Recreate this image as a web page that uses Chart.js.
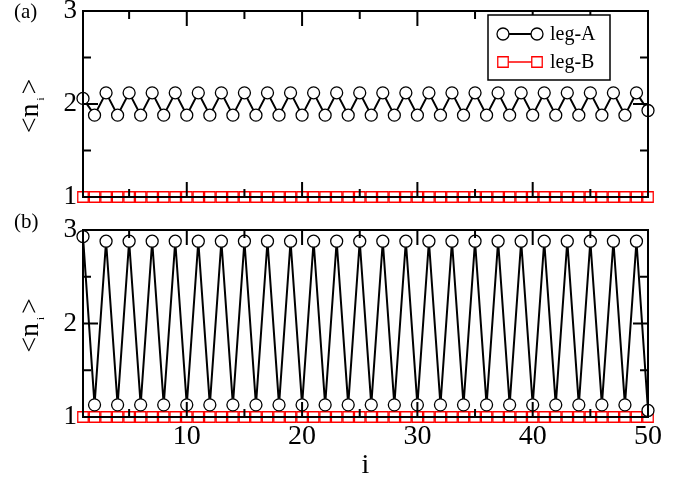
<!DOCTYPE html>
<html><head><meta charset="utf-8">
<script src="https://cdn.jsdelivr.net/npm/chart.js@4.4.0/dist/chart.umd.min.js"></script>
<style>
html,body{margin:0;padding:0;background:#fff;width:689px;height:482px;overflow:hidden;}
canvas{position:absolute;left:0;}
#cA{top:0;}
#cB{top:200px;}
</style></head><body>
<canvas id="cA" width="689" height="215"></canvas>
<canvas id="cB" width="689" height="282"></canvas>
<script>
// ---- data ----
const sites = [1,2,3,4,5,6,7,8,9,10,11,12,13,14,15,16,17,18,19,20,21,22,23,24,25,26,27,28,29,30,31,32,33,34,35,36,37,38,39,40,41,42,43,44,45,46,47,48,49,50];
const legA_a = [2.06,1.88,2.12,1.88,2.12,1.88,2.12,1.88,2.12,1.88,
                2.12,1.88,2.12,1.88,2.12,1.88,2.12,1.88,2.12,1.88,
                2.12,1.88,2.12,1.88,2.12,1.88,2.12,1.88,2.12,1.88,
                2.12,1.88,2.12,1.88,2.12,1.88,2.12,1.88,2.12,1.88,
                2.12,1.88,2.12,1.88,2.12,1.88,2.12,1.88,2.12,1.93];
const legB_a = [1,1,1,1,1,1,1,1,1,1,1,1,1,1,1,1,1,1,1,1,1,1,1,1,1,1,1,1,1,1,1,1,1,1,1,1,1,1,1,1,1,1,1,1,1,1,1,1,1,1];
const legA_b = [2.93,1.13,2.88,1.13,2.88,1.13,2.88,1.13,2.88,1.13,
                2.88,1.13,2.88,1.13,2.88,1.13,2.88,1.13,2.88,1.13,
                2.88,1.13,2.88,1.13,2.88,1.13,2.88,1.13,2.88,1.13,
                2.88,1.13,2.88,1.13,2.88,1.13,2.88,1.13,2.88,1.13,
                2.88,1.13,2.88,1.13,2.88,1.13,2.88,1.13,2.88,1.07];
const legB_b = [1,1,1,1,1,1,1,1,1,1,1,1,1,1,1,1,1,1,1,1,1,1,1,1,1,1,1,1,1,1,1,1,1,1,1,1,1,1,1,1,1,1,1,1,1,1,1,1,1,1];
const seriesNames = ['leg-A','leg-B'];
const panelLabels = ['(a)','(b)'];
const xTickLabels = [10,20,30,40,50];
const xMinorTicks = [5,15,25,35,45];
const yTickLabels = [1,2,3];
const yMinorTicks = [1.5,2.5];
const xTitle = 'i';

const SERIF = '"Liberation Serif", "Times New Roman", serif';
Chart.defaults.font.family = SERIF;
Chart.defaults.color = '#000';

function pts(vals){ return sites.map((s,k)=>({x:s,y:vals[k]})); }

function datasets(a,b){
  return [
    {label:seriesNames[0], data:pts(a), borderColor:'#000', borderWidth:2,
     pointStyle:'circle', pointRadius:6, pointBorderColor:'#000', pointBorderWidth:1.3,
     pointBackgroundColor:'#fff', clip:false, tension:0},
    {label:seriesNames[1], data:pts(b), borderColor:'#ff0000', borderWidth:1.5,
     pointStyle:'rect', pointRadius:7.4, pointBorderColor:'#ff0000', pointBorderWidth:1.3,
     pointBackgroundColor:'rgba(0,0,0,0)', clip:false, tension:0}
  ];
}

const framePlugin = {
  id:'frame',
  afterDatasetsDraw(chart){
    const {ctx, chartArea:a, scales:{x,y}} = chart;
    ctx.save();
    ctx.strokeStyle='#000'; ctx.lineWidth=2;
    ctx.strokeRect(a.left,a.top,a.right-a.left,a.bottom-a.top);
    ctx.beginPath();
    const xs = xTickLabels.map(v=>[v,15]).concat(xMinorTicks.map(v=>[v,8]));
    for (const [v,L] of xs){
      const px = x.getPixelForValue(v);
      ctx.moveTo(px,a.bottom); ctx.lineTo(px,a.bottom-L);
      ctx.moveTo(px,a.top); ctx.lineTo(px,a.top+L);
    }
    const ys = yTickLabels.map(v=>[v,15]).concat(yMinorTicks.map(v=>[v,8]));
    for (const [v,L] of ys){
      const py = y.getPixelForValue(v);
      ctx.moveTo(a.left,py); ctx.lineTo(a.left+L,py);
      ctx.moveTo(a.right,py); ctx.lineTo(a.right-L,py);
    }
    ctx.stroke();
    ctx.restore();
  },
  afterDraw(chart, args, opts){
    const {ctx, chartArea:a} = chart;
    ctx.save();
    ctx.fillStyle='#000';
    ctx.font='21px '+SERIF;
    ctx.textAlign='left'; ctx.textBaseline='middle';
    ctx.fillText(opts.panel, 14, opts.panelY);
    const cx = 38, cy = (a.top+a.bottom)/2 + 2;
    ctx.translate(cx, cy);
    ctx.rotate(-Math.PI/2);
    ctx.textBaseline='alphabetic';
    const big='28px '+SERIF, small='11px '+SERIF;
    const gap = 3;
    ctx.font=big; const w1=ctx.measureText('<n').width, w3=ctx.measureText('>').width;
    ctx.font=small; const w2=ctx.measureText('i').width + 2*gap;
    const x0 = -(w1+w2+w3)/2;
    ctx.font=big; ctx.fillText('<n', x0, 0);
    ctx.font=small; ctx.fillText('i', x0+w1+gap, 5.5);
    ctx.font=big; ctx.fillText('>', x0+w1+w2, 0);
    ctx.restore();

    if (opts.legend){
      ctx.save();
      ctx.fillStyle='#fff';
      ctx.fillRect(488,15,122,65);
      ctx.strokeStyle='#000'; ctx.lineWidth=1.5;
      ctx.strokeRect(488,15,122,65);
      const rows=[34,62];
      chart.data.datasets.forEach((ds,i)=>{
        const yy=rows[i];
        ctx.strokeStyle=ds.borderColor; ctx.lineWidth=ds.borderWidth;
        ctx.beginPath(); ctx.moveTo(503,yy); ctx.lineTo(537,yy); ctx.stroke();
        for (const xx of [503,537]){
          ctx.fillStyle='#fff'; ctx.strokeStyle=ds.pointBorderColor; ctx.lineWidth=ds.pointBorderWidth;
          ctx.beginPath();
          if (ds.pointStyle==='circle'){ ctx.arc(xx,yy,ds.pointRadius,0,Math.PI*2); }
          else { const s=ds.pointRadius*Math.SQRT1_2; ctx.rect(xx-s,yy-s,2*s,2*s); }
          ctx.fill(); ctx.stroke();
        }
        ctx.fillStyle='#000'; ctx.font='20px '+SERIF;
        ctx.textAlign='left'; ctx.textBaseline='middle';
        ctx.fillText(ds.label, 550, yy+1);
      });
      ctx.restore();
    }
  }
};

function zeroPad(s){ s.paddingTop=0; s.paddingBottom=0; s.paddingLeft=0; s.paddingRight=0; }

function makeChart(id, a, b, cfg){
  return new Chart(document.getElementById(id), {
    type:'line',
    data:{datasets:datasets(a,b)},
    options:{
      responsive:false, animation:false,
      layout:{padding:{top:cfg.top,right:41,left:0,bottom:0}},
      plugins:{legend:{display:false}, tooltip:{enabled:false},
        frame:{panel:cfg.panel, panelY:cfg.panelY, legend:cfg.legend}},
      scales:{
        x:{type:'linear', min:1, max:50,
           afterFit:s=>{s.height=cfg.xh; zeroPad(s);},
           grid:{display:false, drawTicks:false}, border:{display:false},
           ticks:{display:cfg.xlabels, padding:3, font:{size:28}, maxRotation:0},
           afterBuildTicks:s=>{s.ticks=xTickLabels.map(v=>({value:v}));},
           title:{display:cfg.xlabels, text:xTitle, font:{size:28}, padding:{top:0,bottom:0}}},
        y:{type:'linear', min:1, max:3,
           afterFit:s=>{s.width=83; zeroPad(s);},
           grid:{display:false, drawTicks:false}, border:{display:false},
           afterBuildTicks:s=>{s.ticks=yTickLabels.map(v=>({value:v}));},
           ticks:{padding:6, font:{size:27}}}
      }
    },
    plugins:[framePlugin]
  });
}

makeChart('cA', legA_a, legB_a, {top:11, xh:18, xlabels:false, panel:panelLabels[0], panelY:12, legend:true});
makeChart('cB', legA_b, legB_b, {top:30, xh:65, xlabels:true, panel:panelLabels[1], panelY:22, legend:false});
</script>
</body></html>
